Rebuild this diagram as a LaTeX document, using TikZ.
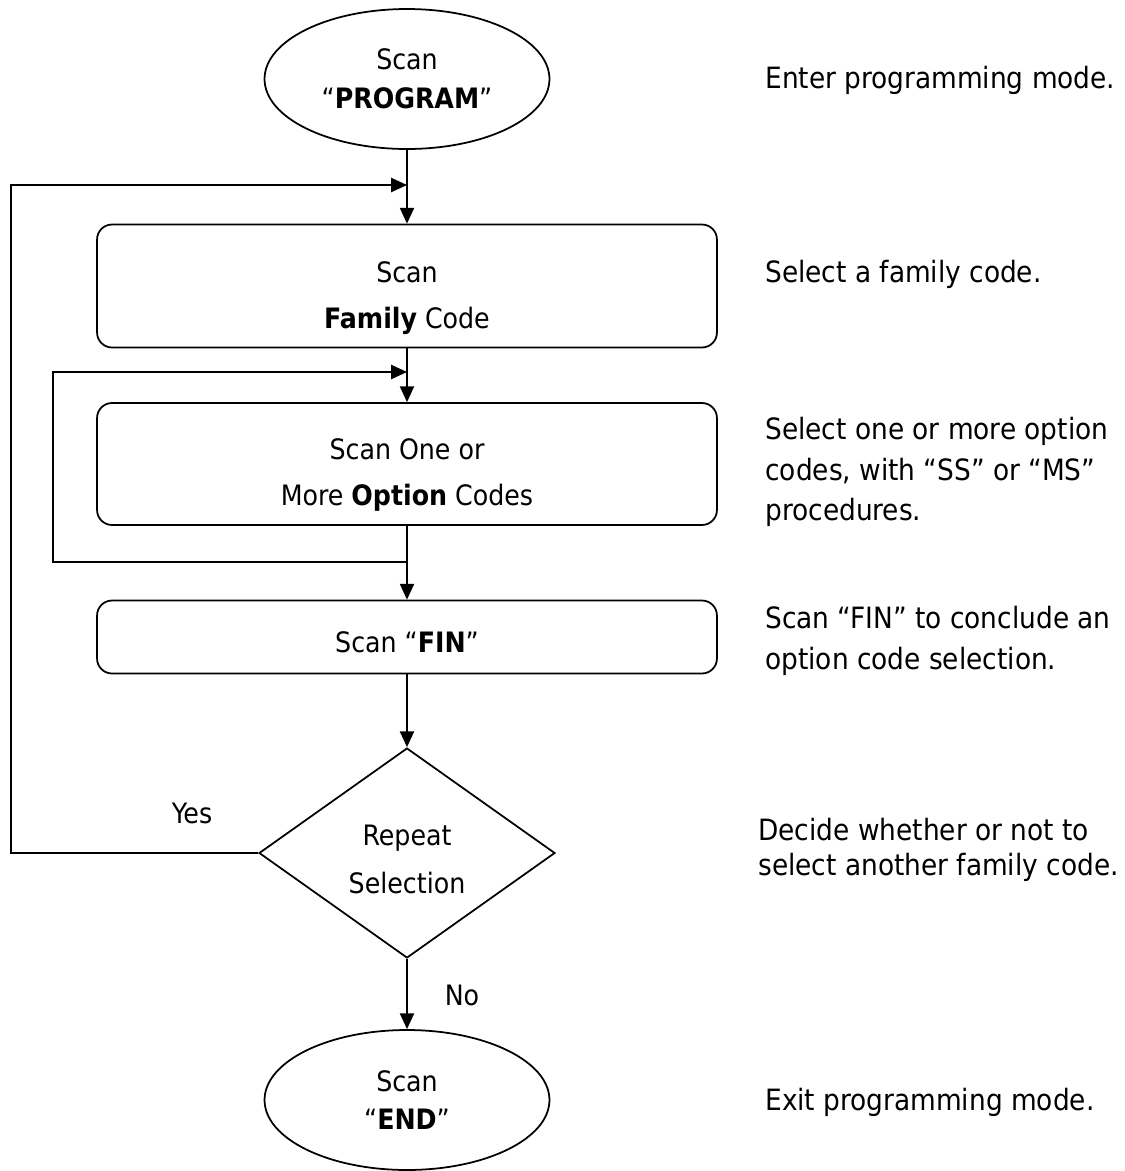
\documentclass[tikz,border=0pt]{standalone}
\usepackage{fontspec}
\setmainfont{DejaVu Sans Condensed}
\usetikzlibrary{shapes.geometric,arrows.meta}
\begin{document}
\begin{tikzpicture}[x=0.02cm,y=-0.02cm,>={Triangle[length=9pt,width=8pt]},
	every node/.style={font=\fontsize{16}{26}\selectfont},
	term/.style={draw,ellipse,line width=1pt,minimum width=5.7cm,minimum height=2.8cm,align=center,font=\fontsize{16}{22}\selectfont},
	stepbox/.style={draw,rectangle,rounded corners=0.3cm,line width=1pt,minimum width=12.4cm,align=center},
	decide/.style={draw,diamond,line width=1pt,inner sep=0pt,minimum width=5.92cm,minimum height=4.2cm,align=center,font=\fontsize{16}{27}\selectfont},
	note/.style={anchor=west,align=left,inner sep=0pt,font=\fontsize{16.7}{20}\selectfont},
	flow/.style={->,line width=1.1pt}]
	\useasboundingbox (0,0) rectangle (1125,1171);
	% flowchart
	\node[term] (prog) at (407,79) {Scan\\``\textbf{PROGRAM}''};
	\node[stepbox,minimum height=2.46cm] (family) at (407,286) {\rule{0pt}{26pt}Scan\\\textbf{Family} Code};
	\node[stepbox,minimum height=2.44cm] (option) at (407,464) {\rule{0pt}{24pt}Scan One or\\More \textbf{Option} Codes};
	\node[stepbox,minimum height=1.46cm] (fin) at (407,637) {\rule{0pt}{18pt}Scan ``\textbf{FIN}''};
	\node[decide] (rep) at (407,853) {\rule{0pt}{19pt}Repeat\\Selection};
	\node[term] (end) at (407,1100) {Scan\\``\textbf{END}''};
	\coordinate (joinA) at (407,185);
	\coordinate (joinB) at (407,372);
	\coordinate (splitB) at (407,562);
	\coordinate (leftA) at (11,0);
	\coordinate (leftB) at (53,0);
	\draw[flow] (prog) -- (family);
	\draw[flow] (family) -- (option);
	\draw[flow] (option) -- (fin);
	\draw[flow] (fin) -- (rep);
	\draw[flow] (rep) -- (end);
	\draw[flow] (rep.west) -- (rep.west -| leftA) |- (joinA); % back to family code
	\draw[flow] (splitB) -- (splitB -| leftB) |- (joinB); % more options
	\node (yes) at (192,813) {Yes};
	\node (no) at (462,995) {No};
	% notes on the right
	\node[note] (n1) at (765,80) {Enter programming mode.};
	\node[note] (n2) at (765,274) {Select a family code.};
	\node[note,font=\fontsize{16.7}{23}\selectfont] (n3) at (765,472) {Select one or more option\\codes, with ``SS'' or ``MS''\\procedures.};
	\node[note,font=\fontsize{16.7}{23}\selectfont] (n4) at (765,641) {Scan ``FIN'' to conclude an\\option code selection.};
	\node[note] (n5) at (758,850) {Decide whether or not to\\select another family code.};
	\node[note] (n6) at (765,1102) {Exit programming mode.};
\end{tikzpicture}
\end{document}
